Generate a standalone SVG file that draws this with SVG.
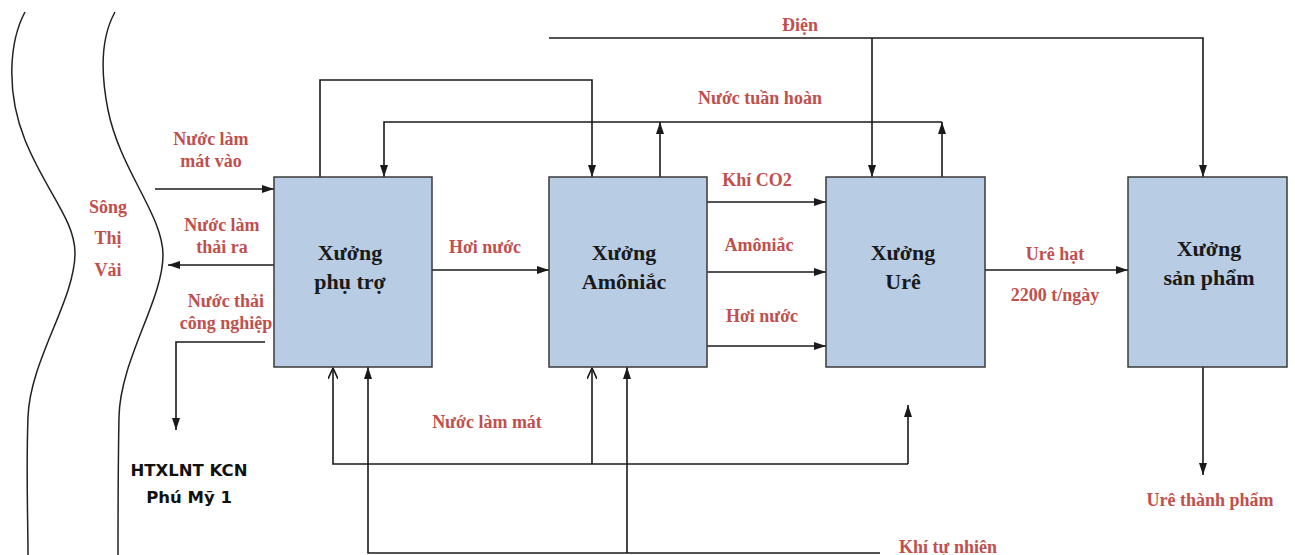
<svg xmlns="http://www.w3.org/2000/svg" width="1295" height="555" viewBox="0 0 1295 555">
<style>
.box{fill:#b8cce4;stroke:#3a3a3a;stroke-width:1.5}
.bt{font-family:"Liberation Serif",serif;font-weight:bold;font-size:22px;fill:#1a1a1a;text-anchor:middle}
.lb{font-family:"Liberation Serif",serif;font-weight:bold;font-size:18px;fill:#c0504d;text-anchor:middle}
.ln{fill:none;stroke:#1a1a1a;stroke-width:1.6}
.river{fill:none;stroke:#222;stroke-width:1.5}
.blk{font-family:"DejaVu Sans",sans-serif;font-weight:bold;font-size:16.5px;fill:#111;text-anchor:middle}
</style>
<defs>
<marker id="a" viewBox="0 0 12 8" refX="12" refY="4" markerWidth="12" markerHeight="8" markerUnits="userSpaceOnUse" orient="auto">
<path d="M0,0 L12,4 L0,8 Z" fill="#1a1a1a"/>
</marker>
<marker id="o" viewBox="0 0 12 10" refX="11" refY="5" markerWidth="12" markerHeight="10" markerUnits="userSpaceOnUse" orient="auto">
<path d="M0,0 L11,5 L0,10" fill="none" stroke="#1a1a1a" stroke-width="1.6"/>
</marker>
</defs>
<rect width="1295" height="555" fill="#fff"/>
<g id="river">
<path class="river" d="M25,12 C10,40 5,90 25,140 C45,190 75,220 75,253 C75,300 30,360 28,417 C26,470 28,520 28,555"/>
<path class="river" d="M115,12 C105,30 98,60 108,110 C120,170 163,215 163,255 C163,300 120,360 119,417 C118,470 118,520 118,555"/>
<text class="lb" x="108" y="213">Sông</text>
<text class="lb" x="108" y="244">Thị</text>
<text class="lb" x="108" y="276">Vải</text>
</g>
<g id="connectors">
<path class="ln" d="M549,38 H1203 V177" marker-end="url(#a)"/>
<path class="ln" d="M872,38 V177" marker-end="url(#a)"/>
<path class="ln" d="M320,177 V80 H592 V177" marker-end="url(#a)"/>
<path class="ln" d="M942,122 H384 V177" marker-end="url(#a)"/>
<path class="ln" d="M660,177 V122" marker-end="url(#a)"/>
<path class="ln" d="M942,177 V122" marker-end="url(#a)"/>
<path class="ln" d="M155,189 H274" marker-end="url(#a)"/>
<path class="ln" d="M274,265 H168" marker-end="url(#a)"/>
<path class="ln" d="M265,342 H176 V430" marker-end="url(#a)"/>
<path class="ln" d="M432,270 H549" marker-end="url(#a)"/>
<path class="ln" d="M707,202 H826" marker-end="url(#a)"/>
<path class="ln" d="M707,272 H826" marker-end="url(#a)"/>
<path class="ln" d="M707,346 H826" marker-end="url(#a)"/>
<path class="ln" d="M985,270 H1128" marker-end="url(#a)"/>
<path class="ln" d="M1203,367 V475" marker-end="url(#a)"/>
<path class="ln" d="M908,464 H333 V368" marker-end="url(#o)"/>
<path class="ln" d="M592,464 V368" marker-end="url(#o)"/>
<path class="ln" d="M908,464 V405" marker-end="url(#a)"/>
<path class="ln" d="M880,553 H368 V367" marker-end="url(#a)"/>
<path class="ln" d="M627,553 V367" marker-end="url(#a)"/>
</g>
<g id="labels">
<text class="lb" x="800" y="31">Điện</text>
<text class="lb" x="760" y="104">Nước tuần hoàn</text>
<text class="lb" x="211" y="145">Nước làm</text>
<text class="lb" x="211" y="167">mát vào</text>
<text class="lb" x="222" y="231">Nước làm</text>
<text class="lb" x="222" y="253">thải ra</text>
<text class="lb" x="226" y="307">Nước thải</text>
<text class="lb" x="226" y="329">công nghiệp</text>
<text class="lb" x="485" y="253">Hơi nước</text>
<text class="lb" x="757" y="186">Khí CO2</text>
<text class="lb" x="759" y="251">Amôniắc</text>
<text class="lb" x="762" y="322">Hơi nước</text>
<text class="lb" x="1055" y="260">Urê hạt</text>
<text class="lb" x="1055" y="301">2200 t/ngày</text>
<text class="lb" x="1210" y="506">Urê thành phẩm</text>
<text class="lb" x="487" y="428">Nước làm mát</text>
<text class="lb" x="948" y="553">Khí tự nhiên</text>
<text class="blk" x="189" y="476">HTXLNT KCN</text>
<text class="blk" x="189" y="503">Phú Mỹ 1</text>
</g>
<g id="phutro">
<rect class="box" x="274" y="177" width="158" height="190"/>
<text class="bt" x="350" y="260">Xưởng</text>
<text class="bt" x="350" y="289">phụ trợ</text>
</g>
<g id="amoniac">
<rect class="box" x="549" y="177" width="158" height="190"/>
<text class="bt" x="624" y="260">Xưởng</text>
<text class="bt" x="624" y="289">Amôniắc</text>
</g>
<g id="ure">
<rect class="box" x="826" y="177" width="159" height="190"/>
<text class="bt" x="903" y="260">Xưởng</text>
<text class="bt" x="903" y="289">Urê</text>
</g>
<g id="sanpham">
<rect class="box" x="1128" y="177" width="159" height="190"/>
<text class="bt" x="1209" y="256">Xưởng</text>
<text class="bt" x="1209" y="285">sản phẩm</text>
</g>
</svg>
